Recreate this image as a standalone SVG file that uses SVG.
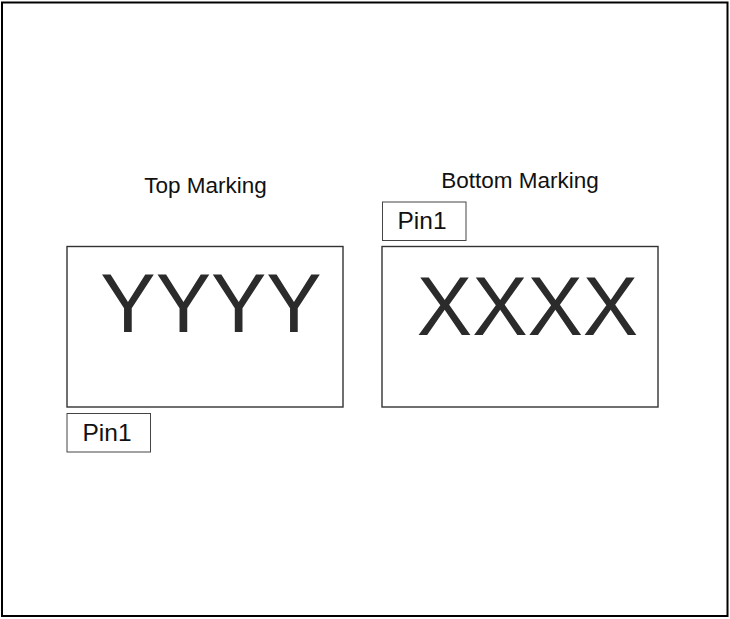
<svg xmlns="http://www.w3.org/2000/svg" width="730" height="619" viewBox="0 0 730 619">
<style>
.lbl{font-family:"Liberation Sans",Arial,sans-serif;fill:#111}
.big{font-family:"Liberation Sans",Arial,sans-serif;fill:#2b2b2b;font-size:83px}
.box{fill:#fff;stroke:#333;stroke-width:1.4}
.pin{fill:#fff;stroke:#444;stroke-width:1}
</style>
<rect x="0" y="0" width="730" height="619" fill="#fff"/>
<rect id="frame" x="2" y="2.5" width="725.5" height="613.5" fill="none" stroke="#000" stroke-width="2"/>
<g id="top-title"><text class="lbl" x="205.5" y="193" font-size="22.5" text-anchor="middle">Top Marking</text></g>
<g id="bottom-title"><text class="lbl" x="520" y="188" font-size="22.5" text-anchor="middle">Bottom Marking</text></g>
<g id="top-box"><rect class="box" x="67" y="246.5" width="276" height="160.5"/><text class="big" x="211" y="332" text-anchor="middle">YYYY</text></g>
<g id="bottom-box"><rect class="box" x="382" y="246.5" width="276" height="160.5"/><text class="big" x="527.5" y="335" text-anchor="middle">XXXX</text></g>
<g id="pin1-bottom"><rect class="pin" x="382.5" y="202" width="83.5" height="38.5"/><text class="lbl" x="422" y="229" font-size="24.5" text-anchor="middle">Pin1</text></g>
<g id="pin1-top"><rect class="pin" x="67" y="413.5" width="83.5" height="38.5"/><text class="lbl" x="107" y="441" font-size="24.5" text-anchor="middle">Pin1</text></g>
<g id="connectors"></g>
</svg>
